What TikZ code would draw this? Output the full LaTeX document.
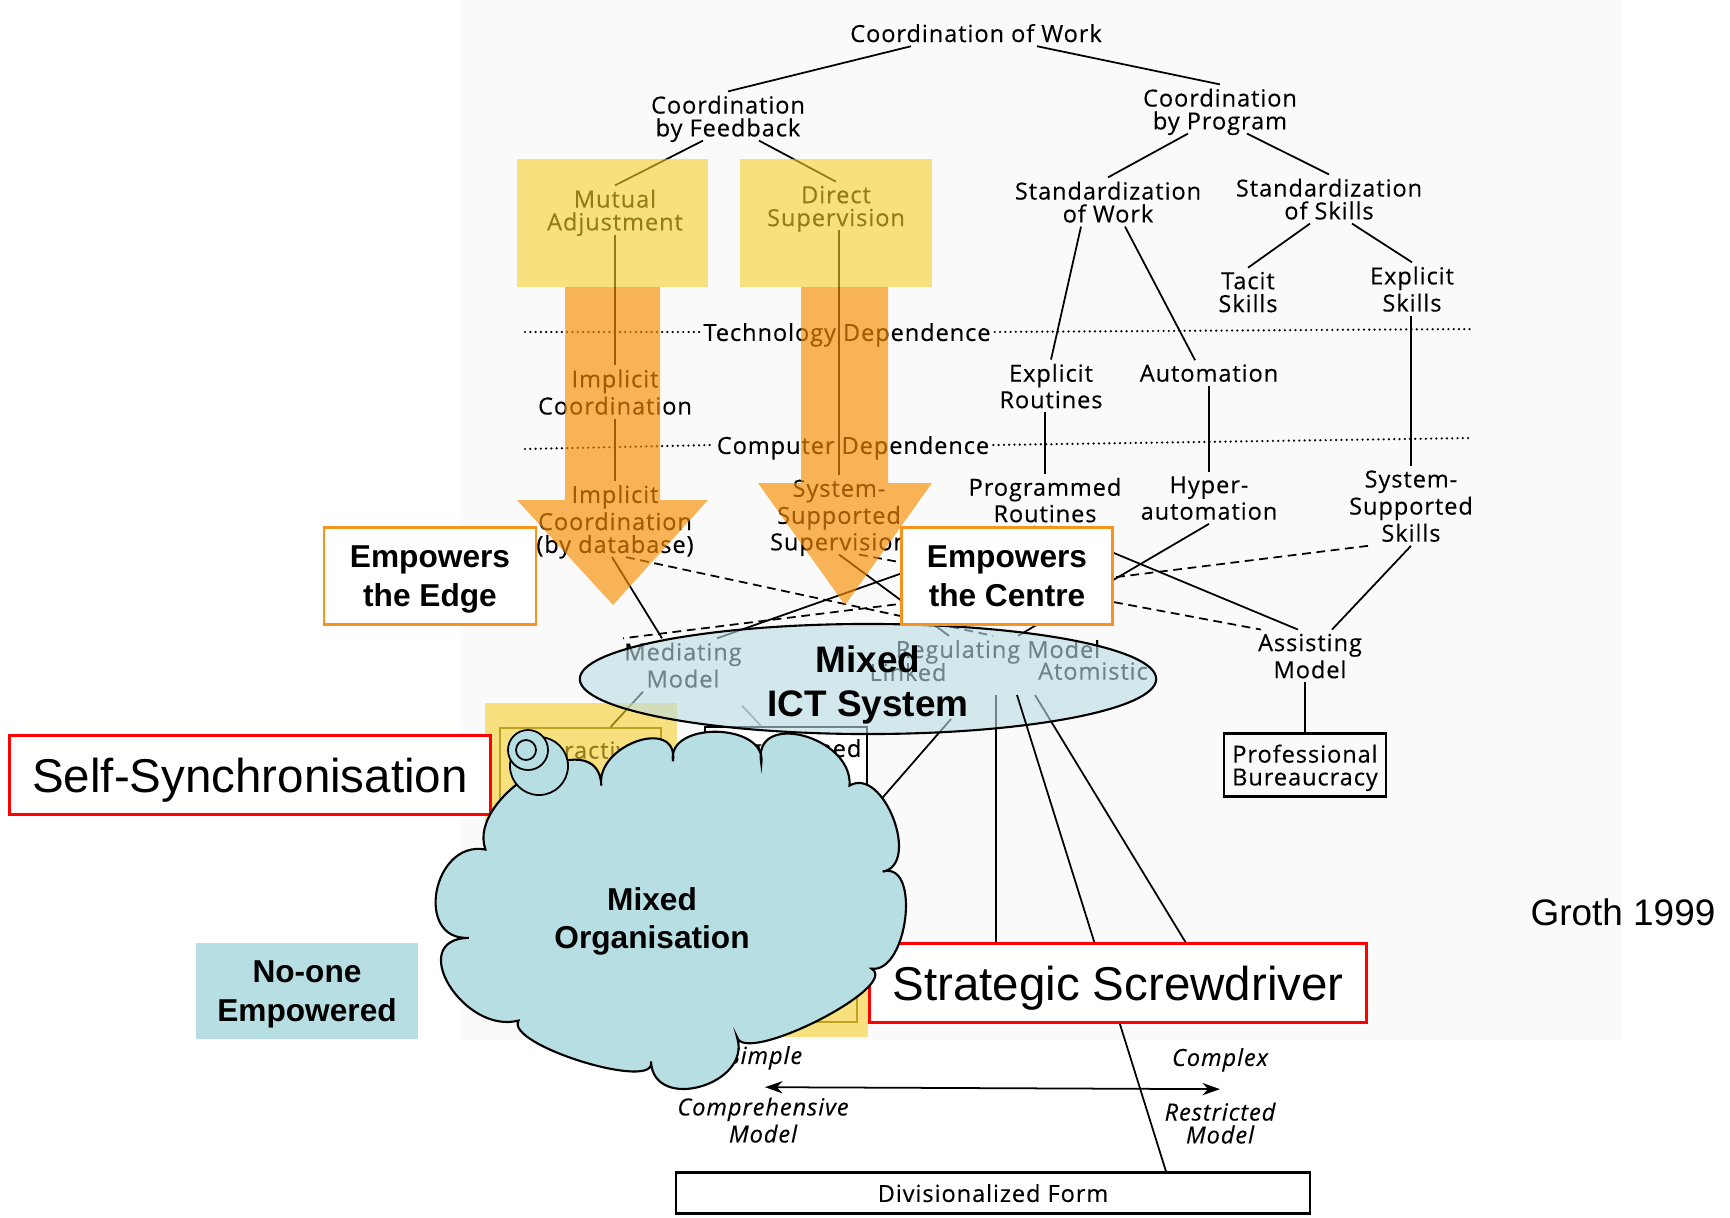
\documentclass[tikz,border=0pt]{standalone}
\usepackage{fontspec}
\setmainfont{Liberation Sans}
\newfontfamily\bookfam[LetterSpace=4,FakeBold=0.3]{Open Sans}
\usepackage{tikz}
\usetikzlibrary{calc}
\usetikzlibrary{shapes.geometric,arrows.meta}
\usepackage{xcolor}

\definecolor{scanbg}{RGB}{250,250,250}
\definecolor{padyellow}{RGB}{248,207,45}
\definecolor{arroworange}{RGB}{249,141,0}
\definecolor{edgeorange}{RGB}{247,148,29}
\definecolor{ictblue}{RGB}{185,220,227}
\definecolor{orgblue}{RGB}{183,222,226}
\definecolor{boxolive}{RGB}{110,95,20}

\tikzset{
  book/.style={font=\bookfam\fontsize{6.7}{6.5}\selectfont, align=center, inner sep=1pt, text depth=0pt},
  bookit/.style={book, font=\bookfam\itshape\fontsize{6.7}{6.5}\selectfont},
  treeline/.style={line width=0.5pt},
  linkdash/.style={line width=0.5pt, dash pattern=on 2.5pt off 1.6pt},
  deplevel/.style={line width=0.7pt, line cap=round, dash pattern=on 0pt off 1.5pt},
  pad/.style={fill=padyellow, fill opacity=0.6},
  push/.style={fill=arroworange, fill opacity=0.65},
  powerbox/.style={draw=edgeorange, line width=0.7pt, fill=white, align=center,
    font=\bfseries\fontsize{9}{11}\selectfont, inner sep=0pt, text depth=0pt},
  tagbox/.style={draw=red, line width=0.7pt, fill=white, inner sep=0pt, text depth=0pt,
    font=\fontsize{13.5}{16}\selectfont},
  formbox/.style={book, draw, line width=0.6pt},
  bubble/.style={circle, draw, line width=0.5pt, fill=orgblue, inner sep=0pt},
  boldlabel/.style={align=center, inner sep=0pt, text depth=0pt, font=\bfseries\fontsize{9}{11}\selectfont},
}

\begin{document}
\begin{tikzpicture}[x=0.01cm,y=-0.01cm]
% \draw[lightgray] (0,0) grid (1730,1218);
\useasboundingbox (0,0) rectangle (1730,1218);
\fill[scanbg] (461,0) rectangle (1622,1040);

% the scanned tree
\node[book] (CoW) at (976,33) {Coordination of Work};
\node[book] (CbF) at (728,116) {Coordination\\by Feedback};
\node[book] (CbP) at (1220,109) {Coordination\\by Program};
\node[book] (MA) at (615,210) {Mutual\\Adjustment};
\node[book] (DS) at (836,206) {Direct\\Supervision};
\node[book] (SoW) at (1108,202) {Standardization\\of Work};
\node[book] (SoS) at (1329,199) {Standardization\\of Skills};
\node[book] (TS) at (1248,292) {Tacit\\Skills};
\node[book] (ES) at (1412,289) {Explicit\\Skills};
\node[book] (TD) at (847,332) {Technology Dependence};
\node[book] (ER) at (1051,386) {Explicit\\Routines};
\node[book] (AU) at (1209,373) {Automation};
\node[book] (IC) at (615,392) {Implicit\\Coordination};
\node[book] (CD) at (853,445) {Computer Dependence};
\node[book] (ICD) at (615,519) {Implicit\\Coordination\\(by database)};
\node[book] (SSS) at (839,515) {System-\\Supported\\Supervision};
\node[book] (PR) at (1045,500) {Programmed\\Routines};
\node[book] (HA) at (1209,498) {Hyper-\\automation};
\node[book] (SSK) at (1411,506) {System-\\Supported\\Skills};
\node[book] (AM) at (1310,656) {Assisting\\Model};
\node[formbox, minimum width=1.62cm, minimum height=0.63cm] (PB) at (1305,765) {Professional\\Bureaucracy};
\node[book] (MM) at (683,665) {Mediating\\Model};
\node[book] (RM) at (998,649) {Regulating Model};
\node[book] (LK) at (908,672) {Linked};
\node[book] (AT) at (1093,671) {Atomistic};

\coordinate (techL) at (525,332);
\coordinate (techR) at (1473,329);
\coordinate (compL) at (525,449);
\coordinate (compR) at (1473,438);
\draw[deplevel] (techL)--(TD.west);
\draw[deplevel] (TD.east)--(techR);
\draw[deplevel] (compL)--(CD.west);
\draw[deplevel] (CD.east)--(compR);

\draw[treeline] ($(CoW.south)+(-65,0)$)--(CbF.north);
\draw[treeline] ($(CoW.south)+(61,0)$)--(CbP.north);
\draw[treeline] ($(CbF.south)+(-25,0)$)--(MA.north);
\draw[treeline] ($(CbF.south)+(31,0)$)--(DS.north);
\draw[treeline] ($(CbP.south)+(-32,0)$)--(SoW.north);
\draw[treeline] ($(CbP.south)+(27,0)$)--(SoS.north);
\draw[treeline] ($(SoS.south)+(-19,0)$)--(TS.north);
\draw[treeline] ($(SoS.south)+(23,0)$)--(ES.north);
\draw[treeline] ($(SoW.south)+(-27,0)$)--(ER.north);
\draw[treeline] ($(SoW.south)+(17,0)$)--($(AU.north)+(-14,0)$);
\draw[treeline] (MA.south)--(IC.north);
\draw[treeline] (IC.south)--(ICD.north);
\draw[treeline] (SSS.north |- DS.south)--(SSS.north);
\draw[treeline] (PR.north |- ER.south)--(PR.north);
\draw[treeline] (AU.south)--(HA.north);
\draw[treeline] (SSK.north |- ES.south)--(SSK.north);

\draw[treeline] ($(ICD.south)+(-3,0)$)--($(MM.north)+(-21,0)$);
\draw[linkdash] ($(ICD.south)+(11,0)$)--($(RM.north)+(-5,0)$);
\draw[treeline] ($(PR.south)+(-10,0)$)--($(MM.north)+(34,0)$);
\draw[treeline] (SSS.south)--($(RM.north)+(-49,0)$);
\draw[linkdash] ($(SSS.south)+(20,0)$)--($(AM.north)+(-49,0)$);
\draw[linkdash] ($(SSK.south)+(-43,0)$)--($(MM.north)+(-60,0)$);
\draw[treeline] (HA.south)--($(RM.north)+(20,0)$);
\draw[treeline] ($(PR.south)+(5,0)$)--($(AM.north)+(-12,0)$);
\draw[treeline] (SSK.south)--($(AM.north)+(22,0)$);
\draw[treeline] (PB.north |- AM.south)--(PB.north);

% highlights over the scan
\fill[pad] (517,159) rectangle (708,287);
\fill[pad] (740,159) rectangle (932,287);
\fill[push] (565,287)--(660,287)--(660,500)--(708,500)--(613,605)--(517,500)--(565,500)--cycle;
\fill[push] (801,287)--(888,287)--(888,483)--(932,483)--(845,605)--(758,483)--(801,483)--cycle;

% boxes under the cloud
\node[draw=boxolive, line width=0.6pt, minimum width=1.61cm, minimum height=1.74cm, anchor=north west] (IntBox) at (499,727) {};
\node[book] (IntTxt) at (580,750) {Interactive};
\node[draw, line width=0.6pt, fill=white, minimum width=1.62cm, minimum height=1.74cm, anchor=north west] (ProgBox) at (704,726) {};
\node[book] (ProgTxt) at (785,748) {Programmed};
\node[draw=boxolive, line width=0.6pt, minimum width=1.68cm, minimum height=0.73cm, anchor=south east] (OrgBox) at (858,1023) {};

\coordinate (tap1) at (951,719);
\coordinate (tap2) at (996,695);
\coordinate (tap3) at (1017,695);
\coordinate (tap4) at (1035,695);
\draw[treeline] ($(MM.south)+(-40,0)$)--($(IntBox.north)+(30,0)$);
\draw[treeline,gray] ($(MM.south)+(59,14)$)--($(ProgBox.north)+(-25,0)$);
\draw[treeline] (tap1)--(ProgBox.east);
\draw[treeline] (tap2)--(tap2 |- 0,943);
\draw[treeline] (tap4)--(1186,943);

\fill[pad] (485,703) rectangle (677,1000);
\fill[pad] (700,940) rectangle (868,1037);

\node[ellipse, draw, line width=0.6pt, fill=ictblue, fill opacity=0.6,
  minimum width=5.76cm, minimum height=1.10cm, inner sep=0pt] (ICT) at (868,679) {};
\node[align=center, inner sep=0pt, font=\bfseries\fontsize{10.5}{12.5}\selectfont] (ICTtxt) at (868,685) {Mixed\\ICT System};

% bottom of the scan
\node[bookit] (Simple) at (765,1055) {Simple};
\node[bookit] (Complex) at (1220,1057) {Complex};
\draw[line width=0.5pt, {Stealth[length=5pt,width=3.5pt]}-{Stealth[length=5pt,width=3.5pt]}]
  ($(Simple.south)+(0,19)$)--($(Complex.south)+(0,19)$);
\node[bookit] (CompM) at (763,1120) {Comprehensive\\Model};
\node[bookit] (RestM) at (1220,1123) {Restricted\\Model};
\node[formbox, minimum width=6.33cm, minimum height=0.41cm] (DF) at (993,1193) {Divisionalized Form};
\draw[treeline] (tap3)--($(DF.north)+(173,0)$);

% labels laid on top
\node[powerbox, minimum width=2.12cm, minimum height=0.97cm] (Edge) at (430,576) {Empowers\\the Edge};
\node[powerbox, minimum width=2.11cm, minimum height=0.97cm] (Centre) at (1007,576) {Empowers\\the Centre};
\node[tagbox, minimum width=4.81cm, minimum height=0.79cm] (SelfSync) at (250,775) {Self-Synchronisation};
\node[tagbox, minimum width=4.97cm, minimum height=0.79cm] (Screw) at (1118,983) {Strategic Screwdriver};

\begin{scope}[scale=1.1033]
\draw[line width=0.6pt, fill=orgblue] (440,770)
  .. controls (422,720) and (543,652) .. (545,712)
  .. controls (540,675) and (615,649) .. (610,690)
  .. controls (604,653) and (696,655) .. (690,692)
  .. controls (681,643) and (773,667) .. (770,712)
  .. controls (801,694) and (835,784) .. (800,790)
  .. controls (835,780) and (823,882) .. (790,878)
  .. controls (817,894) and (675,966) .. (668,940)
  .. controls (682,983) and (592,1009) .. (590,962)
  .. controls (597,990) and (457,947) .. (470,925)
  .. controls (420,938) and (367,851) .. (425,850)
  .. controls (375,853) and (392,761) .. (440,770) -- cycle;
\end{scope}
\node[boldlabel] (Org) at (652,918) {Mixed\\Organisation};
\node[bubble, minimum size=0.58cm] (Bub3) at (539,766) {};
\node[bubble, minimum size=0.40cm] (Bub2) at (528,750) {};
\node[bubble, minimum size=0.20cm] (Bub1) at (526,750) {};

\node[boldlabel, fill=orgblue, minimum width=2.21cm, minimum height=0.95cm] (NoOne) at (307,991) {No-one\\Empowered};
\node[inner sep=0pt, font=\fontsize{10.5}{12}\selectfont] (Groth) at (1623,912) {Groth 1999};

\end{tikzpicture}
\end{document}
